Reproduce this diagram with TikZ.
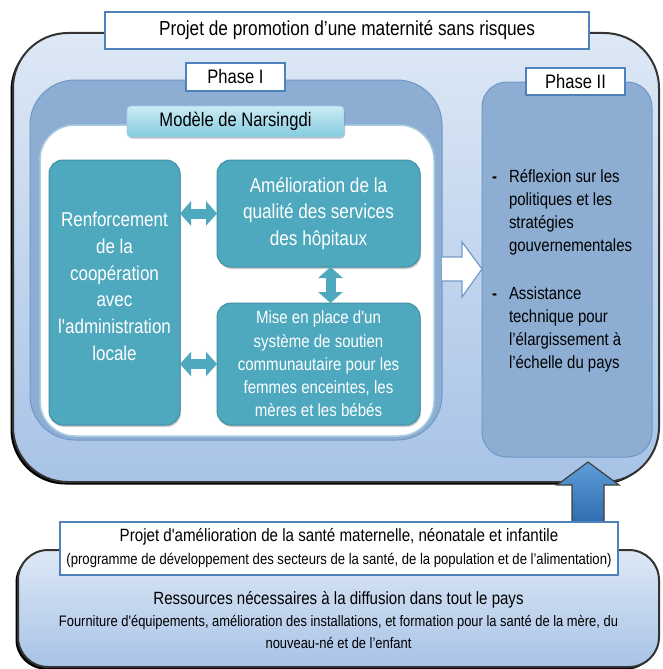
\documentclass[tikz,border=0pt]{standalone}
\usepackage{fontspec}
\setmainfont{Liberation Sans}[FakeStretch=0.85, Ligatures=TeXOff]
\usetikzlibrary{arrows.meta,calc,shadows}
\definecolor{outerTop}{HTML}{DDE8F5}
\definecolor{outerBot}{HTML}{A8C3E7}
\definecolor{phaseFill}{HTML}{8DAED2}
\definecolor{phaseBord}{HTML}{6F97C6}
\definecolor{tealF}{HTML}{4EA8BE}
\definecolor{tealB}{HTML}{3F8FA5}
\definecolor{labBord}{HTML}{4F81BD}
\definecolor{cyanTop}{HTML}{CBEBF4}
\definecolor{cyanBot}{HTML}{84CBE0}
\definecolor{whiteBord}{HTML}{A8CDE0}
\definecolor{arrTop}{HTML}{5E9DD8}
\definecolor{arrBot}{HTML}{2F6DB0}
\begin{document}
\begin{tikzpicture}[x=1pt,y=-1pt,
  every node/.style={inner sep=0pt, outer sep=0pt},
  bigbox/.style={rounded corners=#1, draw=black!80, line width=2pt, top color=outerTop, bottom color=outerBot,
    general shadow={fill=black, shadow xshift=-2.5pt, shadow yshift=-2.5pt}},
  phasebox/.style={rounded corners=#1, fill=phaseFill, draw=phaseBord, line width=1pt},
  whitebox/.style={rounded corners=35pt, fill=white, draw=whiteBord, line width=1.5pt},
  labelbox/.style={fill=white, draw=labBord, line width=1.8pt},
  cyanlabel/.style={rounded corners=4pt, top color=cyanTop, bottom color=cyanBot, draw=whiteBord, line width=0.8pt,
    general shadow={fill=black, opacity=0.25, shadow xshift=1pt, shadow yshift=-1.5pt}},
  tealbox/.style={rounded corners=14pt, fill=tealF, draw=tealB, line width=1pt, text=white, align=center,
    general shadow={fill=black, opacity=0.2, shadow xshift=1pt, shadow yshift=-2pt}},
  tealarrow/.style={draw=tealF, line width=10pt, {Triangle[width=24pt,length=11pt]}-{Triangle[width=24pt,length=11pt]}},
  bigfont/.style={font=\fontsize{20.3}{24}\selectfont},
  labfont/.style={font=\fontsize{19.5}{23}\selectfont}
]
\useasboundingbox (0,0) rectangle (662,669);

% outer project box
\node[bigbox=55pt, minimum width=646, minimum height=449] (outer) at (336,257.5) {};

% Phase I
\node[phasebox=45pt, minimum width=412, minimum height=360] (ph1) at (236,260) {};
\node[whitebox, minimum width=394, minimum height=311] (nars) at (237,280.5) {};
\node[labelbox, minimum width=99, minimum height=28, labfont] (ph1lab) at (235.5,77) {Phase I};
\node[cyanlabel, minimum width=217, minimum height=31, labfont] (narslab) at (235.5,121.5) {Modèle de Narsingdi};

% teal boxes
\node[tealbox, minimum width=131, minimum height=265] (left) at (114.5,292.5) {};
\node[text=white, align=center, font=\fontsize{20}{26.7}\selectfont] (lefttxt) at (114.5,286.5)
  {Renforcement\\de la\\coopération\\avec\\l'administration\\locale};
\node[tealbox, minimum width=203, minimum height=107, font=\fontsize{20.2}{26.7}\selectfont] (tr) at (318.5,213.5)
  {Amélioration de la\\qualité des services\\des hôpitaux};
\node[tealbox, minimum width=203, minimum height=122, font=\fontsize{17.7}{23.3}\selectfont] (br) at (318.5,364)
  {Mise en place d'un\\système de soutien\\communautaire pour les\\femmes enceintes, les\\mères et les bébés};

\draw[tealarrow] (left.east |- tr.west) -- (tr.west);
\draw[tealarrow] (left.east |- br.west) -- (br.west);
\draw[tealarrow] ($(tr.south)+(12,0)$) -- ($(br.north)+(12,0)$);

% Phase II
\node[phasebox=25pt, minimum width=170, minimum height=375] (ph2) at (567,269.5) {};
\node[labelbox, minimum width=99, minimum height=27, labfont] (ph2lab) at (575.5,81.5) {Phase II};
\node[anchor=north west, font=\fontsize{17.6}{23}\selectfont] (ph2txt) at (492,166)
  {\begin{tabular}{@{}p{17pt}@{}l@{}}
   \textbf{-} & Réflexion sur les\\
              & politiques et les\\
              & stratégies\\
              & gouvernementales\\[25pt]
   \textbf{-} & Assistance\\
              & technique pour\\
              & l’élargissement à\\
              & l’échelle du pays
   \end{tabular}};

% white block arrow Phase I -> Phase II
\coordinate (wa1) at (ph1.east |- 0,257);
\coordinate (wa2) at (ph1.east |- 0,281);
\coordinate (watip) at (ph2.west |- 0,269);
\fill[white] (wa1) -- (462,257) -- (462,242) -- (watip) -- (462,297) -- (462,281) -- (wa2) -- cycle;
\draw[labBord!80, line width=1.2pt, line join=miter] (wa1) -- (462,257) -- (462,242) -- (watip) -- (462,297) -- (462,281) -- (wa2);

% title
\node[labelbox, minimum width=484, minimum height=37, bigfont] (title) at (347,30.5)
  {Projet de promotion d’une maternité sans risques};

% bottom resources box
\node[bigbox=30pt, minimum width=641, minimum height=117] (bot) at (338.5,608.5) {};

% blue up arrow
\coordinate (uabase) at (588,522);
\coordinate (uatip) at (588,462);
\draw[top color=arrTop, bottom color=arrBot, draw=black!75, line width=1.2pt, line join=miter]
  ($(uabase)+(-16,0)$) -- (572,485) -- (557,485) -- (uatip) -- (619,485) -- (604,485) -- ($(uabase)+(16,0)$) -- cycle;

\node[labelbox, minimum width=558, minimum height=53] (botlab) at (339,548.5) {};
\node[align=center, font=\fontsize{17.8}{23}\selectfont] (botlabtxt) at (339,548.5)
  {Projet d'amélioration de la santé maternelle, néonatale et infantile\\
   {\fontsize{15.4}{18}\selectfont (programme de développement des secteurs de la santé, de la population et de l’alimentation)}};
\node[align=center, font=\fontsize{17.7}{22}\selectfont] (bottxt) at (338.5,620)
  {Ressources nécessaires à la diffusion dans tout le pays\\
   {\fontsize{15.2}{22}\selectfont Fourniture d'équipements, amélioration des installations, et formation pour la santé de la mère, du}\\
   {\fontsize{15.2}{22}\selectfont nouveau-né et de l’enfant}};
\end{tikzpicture}
\end{document}
